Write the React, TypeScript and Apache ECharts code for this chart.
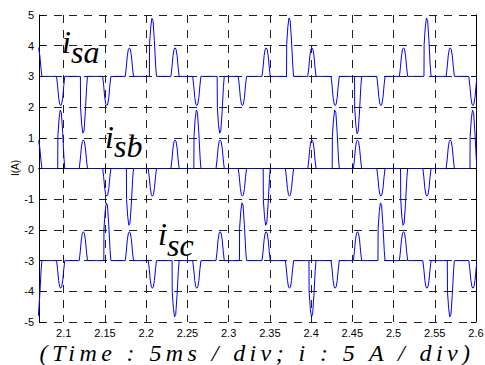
import React, { useEffect, useRef } from "react";
import * as echarts from "echarts";

// x-axis range (time) and y-axis range (current)
const xRange = [2.07, 2.6];
const yRange = [-5, 5];

// centre time of each current pulse
const pulseTimes = [
  2.0685, 2.0963, 2.1238, 2.1522, 2.1796, 2.2075, 2.235, 2.2614, 2.2897, 2.3167,
  2.3455, 2.3738, 2.401, 2.4292, 2.4563, 2.4847, 2.5121, 2.5405, 2.5688, 2.5963,
];

// pulse peak (relative to each trace's baseline) for each phase
const isaPeaks = [
  0.95, -0.95, -1.85, -0.95, 0.93, 1.89, 0.93, -0.95, -1.85, -0.95,
  0.93, 1.9, 0.93, -0.95, -1.87, -0.95, 0.93, 1.9, 0.93, -0.95,
];
const isbPeaks = [
  0.93, 1.9, 0.93, -0.9, -1.85, -0.9, 0.93, 1.9, 0.93, -0.9,
  -1.85, -0.9, 0.93, 1.9, 0.93, -0.9, -1.85, -0.9, 0.93, 1.9,
];
const iscPeaks = [
  -1.85, -0.9, 0.94, 1.88, 0.94, -0.9, -1.83, -0.9, 0.94, 1.88,
  0.94, -0.9, -1.83, -0.9, 0.94, 1.88, 0.94, -0.9, -1.83, -0.9,
];

// baseline offsets of the three traces
const isaBase = 3;
const isbBase = 0;
const iscBase = -3;

// pulse outlines: [time offset, fraction of peak]
const smallPulseShape = [
  [-0.005, 0], [-0.0038, 0.3], [-0.0025, 0.72], [-0.0012, 0.95], [0, 1],
  [0.0012, 0.95], [0.0025, 0.72], [0.0038, 0.3], [0.005, 0],
];
const bigPulseShape = [
  [-0.0036, 0], [-0.0034, 0.55], [-0.002, 0.85], [-0.0006, 1], [0.0008, 0.96],
  [0.0024, 0.62], [0.004, 0.18], [0.005, 0],
];

function buildTrace(base: number, peaks: number[]) {
  const pts: number[][] = [[2.05, base]];
  pulseTimes.forEach((t, i) => {
    const p = peaks[i];
    const shape = Math.abs(p) > 1.4 ? bigPulseShape : smallPulseShape;
    shape.forEach(([dt, f]) => pts.push([t + dt, base + p * f]));
  });
  pts.push([2.62, base]);
  return pts;
}

const FONT = "'Liberation Sans', Arial, sans-serif";
const SERIF = "'Liberation Serif', 'Times New Roman', serif";

export default function App() {
  const ref = useRef<HTMLDivElement>(null);
  useEffect(() => {
    if (!ref.current) return;
    const chart = echarts.init(ref.current, null, { renderer: "svg" });
    const axisLine = { show: true, lineStyle: { color: "#000", width: 1 } };
    const tick = { show: true, inside: true, length: 5, lineStyle: { color: "#000" } };
    const split = { show: true, lineStyle: { type: [8, 7], color: "#222", width: 1 } };
    const lineSeries = (data: number[][]) => ({
      type: "line",
      data,
      showSymbol: false,
      symbol: "none",
      clip: true,
      lineStyle: { color: "#0000ff", width: 1 },
      itemStyle: { color: "#0000ff" },
      xAxisIndex: 0,
      yAxisIndex: 0,
      silent: true,
    });
    const label = (txt: string, x: number, y: number) => ({
      type: "text",
      x,
      y,
      z: 100,
      style: {
        text: txt,
        fontFamily: SERIF,
        fontStyle: "italic",
        fontSize: 32,
        fill: "#000",
        textAlign: "left",
        textVerticalAlign: "middle",
        verticalAlign: "middle",
      },
    });
    chart.setOption({
      animation: false,
      backgroundColor: "#fff",
      grid: { left: 39, right: 9, top: 15, bottom: 43, containLabel: false, outerBoundsMode: "none" },
      xAxis: [
        {
          type: "value",
          min: xRange[0],
          max: xRange[1],
          splitNumber: 10,
          axisLine,
          axisTick: tick,
          axisLabel: { showMinLabel: false, color: "#000", fontSize: 11, margin: 5, fontFamily: FONT },
          splitLine: split,
        },
        {
          type: "value",
          position: "top",
          min: xRange[0],
          max: xRange[1],
          splitNumber: 10,
          axisLine,
          axisTick: tick,
          axisLabel: { show: false },
          splitLine: { show: false },
        },
      ],
      yAxis: [
        {
          type: "value",
          min: yRange[0],
          max: yRange[1],
          interval: 1,
          axisLine,
          axisTick: tick,
          axisLabel: { color: "#000", fontSize: 11, margin: 5, fontFamily: FONT },
          splitLine: split,
        },
        {
          type: "value",
          position: "right",
          min: yRange[0],
          max: yRange[1],
          interval: 1,
          axisLine,
          axisTick: tick,
          axisLabel: { show: false },
          splitLine: { show: false },
        },
      ],
      series: [
        lineSeries(buildTrace(isaBase, isaPeaks)),
        lineSeries(buildTrace(isbBase, isbPeaks)),
        lineSeries(buildTrace(iscBase, iscPeaks)),
      ],
      graphic: [
        label("i", 62, 42),
        label("sa", 71, 52),
        label("i", 105, 137),
        label("sb", 114, 146),
        label("i", 158, 234),
        label("sc", 167, 245),
        {
          type: "text",
          x: 15,
          y: 168,
          rotation: Math.PI / 2,
          style: {
            text: "I(A)",
            fontFamily: FONT,
            fontSize: 10,
            fill: "#000",
            textAlign: "center",
            textVerticalAlign: "middle",
            verticalAlign: "middle",
          },
        },
        {
          type: "text",
          x: 257,
          y: 353,
          z: 100,
          style: {
            text: "(Time : 5ms / div; i : 5 A / div)",
            fontFamily: SERIF,
            fontStyle: "italic",
            fontSize: 24,
            fill: "#000",
            textAlign: "center",
            textVerticalAlign: "middle",
            verticalAlign: "middle",
          },
        },
      ],
    });
    const svg = ref.current.querySelector("svg");
    if (svg) {
      svg.querySelectorAll("text").forEach((t) => {
        if ((t.textContent || "").startsWith("(Time")) t.setAttribute("letter-spacing", "4.4px");
      });
    }
    return () => chart.dispose();
  }, []);
  return (
    <div
      ref={ref}
      style={{ position: "fixed", left: 0, top: 0, width: 485, height: 365, background: "#fff" }}
    />
  );
}
